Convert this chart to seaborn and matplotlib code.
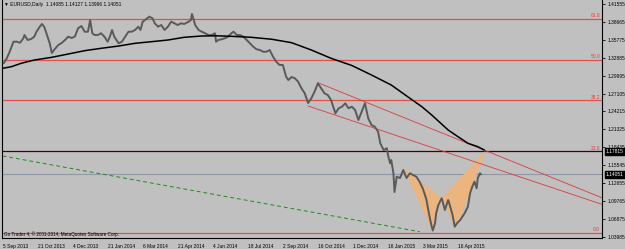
import numpy as np
import pandas as pd
import matplotlib
matplotlib.use("Agg")
import matplotlib.pyplot as plt
import seaborn as sns
from matplotlib.transforms import blended_transform_factory

# ---------------- data ----------------
price_bar = [1, 4, 6, 10, 13, 16, 19, 20, 23, 26, 29, 31, 34, 36, 38, 40, 43, 45, 47, 51,
             54, 57, 60, 63, 66, 69, 72, 75, 78, 80, 82, 84, 87, 90, 93, 96, 98, 100, 102, 106,
             109, 111, 115, 118, 121, 124, 126, 128, 131, 134, 137, 139, 142, 145, 148, 151, 154, 157, 160, 163,
             166, 170, 172, 173, 176, 179, 182, 185, 188, 191, 194, 195, 197, 200, 203, 206, 209, 211, 214, 217,
             220, 223, 226, 229, 232, 235, 238, 241, 244, 247, 250, 253, 256, 259, 261, 264, 267, 270, 273, 276,
             279, 282, 285, 288, 291, 294, 297, 300, 302, 304, 307, 310, 313, 316, 319, 322, 325, 328, 331, 334,
             337, 340, 343, 345, 348, 351, 352, 354, 355, 357, 358, 360, 363, 366, 369, 372, 375, 378, 381, 384,
             387, 390, 392, 393, 395, 396, 398, 401, 402, 404, 405, 407, 408, 411, 413, 415, 418, 420, 422, 425,
             427, 429, 431, 433, 434, 436, 437]
price_close = [1.3198, 1.3284, 1.3364, 1.3547, 1.3547, 1.3530, 1.3602, 1.3655, 1.3574, 1.3590,
               1.3628, 1.3708, 1.3789, 1.3833, 1.3789, 1.3687, 1.3526, 1.3364, 1.3413, 1.3494,
               1.3526, 1.3574, 1.3628, 1.3607, 1.3628, 1.3763, 1.3800, 1.3708, 1.3708, 1.3897,
               1.3683, 1.3655, 1.3655, 1.3683, 1.3628, 1.3547, 1.3628, 1.3736, 1.3628, 1.3521,
               1.3547, 1.3602, 1.3708, 1.3708, 1.3736, 1.3789, 1.3736, 1.3870, 1.3909, 1.3951,
               1.3925, 1.3844, 1.3789, 1.3816, 1.3736, 1.3789, 1.3870, 1.3844, 1.3816, 1.3844,
               1.3833, 1.3870, 1.3897, 1.3994, 1.3816, 1.3736, 1.3708, 1.3683, 1.3655, 1.3655,
               1.3683, 1.3547, 1.3574, 1.3586, 1.3602, 1.3628, 1.3683, 1.3708, 1.3655, 1.3655,
               1.3628, 1.3574, 1.3521, 1.3466, 1.3424, 1.3413, 1.3385, 1.3385, 1.3413, 1.3305,
               1.3224, 1.3171, 1.3171, 1.2982, 1.2928, 1.2977, 1.2956, 1.2901, 1.2794, 1.2714,
               1.2557, 1.2633, 1.2740, 1.2875, 1.2794, 1.2714, 1.2686, 1.2606, 1.2497, 1.2391,
               1.2472, 1.2497, 1.2552, 1.2472, 1.2497, 1.2444, 1.2283, 1.2417, 1.2552, 1.2310,
               1.2202, 1.2175, 1.2094, 1.1907, 1.1798, 1.1826, 1.1718, 1.1584, 1.1637, 1.1422,
               1.1120, 1.1367, 1.1346, 1.1475, 1.1346, 1.1422, 1.1395, 1.1367, 1.1282, 1.1169,
               1.1007, 1.0722, 1.0560, 1.0499, 1.0615, 1.0776, 1.0910, 1.1019, 1.0964, 1.0830,
               1.0883, 1.0991, 1.0938, 1.0749, 1.0560, 1.0615, 1.0668, 1.0722, 1.0776, 1.0883,
               1.1099, 1.1206, 1.1287, 1.1180, 1.1342, 1.1422, 1.1405]

ma_bar = [0, 8, 17, 29, 45, 60, 75, 90, 106, 121, 136, 151, 166, 182, 195, 209, 227, 246,
          264, 282, 300, 319, 337, 355, 370, 383, 392, 407, 416, 425, 434, 440]
ma_value = [1.3117, 1.3143, 1.3198, 1.3251, 1.3295, 1.3348, 1.3402, 1.3440, 1.3477, 1.3521,
            1.3547, 1.3574, 1.3618, 1.3639, 1.3642, 1.3634, 1.3618, 1.3586, 1.3531, 1.3413,
            1.3279, 1.3163, 1.3009, 1.2848, 1.2659, 1.2497, 1.2363, 1.2121, 1.2013, 1.1907,
            1.1852, 1.1798]

fib_levels = [1.0462, 1.17815, 1.2598, 1.3258, 1.3917]
fib_labels = ["0.0", "23.6", "38.2", "50.0", "61.8"]
bid_price = 1.14051
marked_price = 1.17815

upper_channel_bar = [288, 548]
upper_channel_price = [1.2885, 1.1023]
lower_channel_bar = [279, 548]
lower_channel_price = [1.2509, 1.0918]
trend_bar = [0, 381]
trend_price = [1.1702, 1.0479]

pattern_bar = [366, 393, 401, 414, 441]          # X, A, B, C, D
pattern_price = [1.1503, 1.0479, 1.1019, 1.0518, 1.1787]

date_tick_bar = [0, 32, 64, 96, 128, 160, 192, 224, 256, 288, 320, 352, 384, 416]
date_labels = ["5 Sep 2013", "21 Oct 2013", "4 Dec 2013", "21 Jan 2014", "6 Mar 2014",
               "21 Apr 2014", "4 Jun 2014", "18 Jul 2014", "2 Sep 2014", "16 Oct 2014",
               "1 Dec 2014", "16 Jan 2015", "3 Mar 2015", "16 Apr 2015"]
price_ticks = [1.41555, 1.38665, 1.35775, 1.32885, 1.29995, 1.27105, 1.24215, 1.21325,
               1.18435, 1.15545, 1.12655, 1.09765, 1.06875, 1.03985]

header = "\u25BC EURUSD,Daily  1.14085 1.14127 1.13996 1.14051"
footer = "Go Trader 4, \u00A9 2001-2014, MetaQuotes Software Corp."

# ---------------- drawing ----------------
sns.set_theme(style="white")
BG = "#c0c0c0"
plt.rcParams["font.family"] = ["Liberation Sans", "DejaVu Sans"]
FS = 3.5

fig = plt.figure(figsize=(6.25, 2.49), dpi=100, facecolor=BG)
ax = fig.add_axes([2 / 625, 11 / 249, 600 / 625, 238 / 249])
ax.set_facecolor(BG)
ax.set_xlim(-0.5, 547.5)
ax.set_ylim(1.03776, 1.42201)

# fibonacci levels
for lvl, lab in zip(fib_levels, fib_labels):
    col = "#3a0505" if lvl == marked_price else "#e0504c"
    ax.axhline(lvl, color=col, lw=0.9, zorder=1)
    ax.text(0.9967, lvl + 0.0008, lab, color="#e8403c", fontsize=FS,
            transform=blended_transform_factory(ax.transAxes, ax.transData),
            ha="right", va="bottom", zorder=5)
ax.axhline(bid_price, color="#8e98a8", lw=0.8, zorder=1)

# harmonic pattern triangles
ax.fill(pattern_bar[0:3], pattern_price[0:3], color="#ecb47e", lw=0, zorder=1.5)
ax.fill(pattern_bar[2:5], pattern_price[2:5], color="#ecb47e", lw=0, zorder=1.5)

# trend lines
ax.plot(upper_channel_bar, upper_channel_price, color="#d83c3c", lw=0.6, zorder=2)
ax.plot(lower_channel_bar, lower_channel_price, color="#d83c3c", lw=0.6, zorder=2)
ax.plot(trend_bar, trend_price, color="#1f8a1f", lw=0.7, dashes=(4, 3), zorder=2)

# price and moving average
df_price = pd.DataFrame({"bar": price_bar, "close": price_close})
df_ma = pd.DataFrame({"bar": ma_bar, "ma": ma_value})
sns.lineplot(data=df_price, x="bar", y="close", ax=ax, color="#5a5a5a", lw=1.4,
             sort=False, estimator=None, zorder=3)
sns.lineplot(data=df_ma, x="bar", y="ma", ax=ax, color="#000000", lw=1.1,
             sort=False, estimator=None, zorder=4)

# axes styling
ax.set_xlabel("")
ax.set_ylabel("")
for s in ["left", "bottom", "right"]:
    ax.spines[s].set_visible(True)
    ax.spines[s].set_color("#000000")
    ax.spines[s].set_linewidth(0.8)
ax.spines["top"].set_visible(False)

ax.set_xticks(date_tick_bar)
ax.set_xticklabels(date_labels, fontsize=FS, ha="left", color="#000000")
ax.tick_params(axis="x", length=2.5, width=0.6, pad=1.5, color="#000000", direction="out")

ax.yaxis.tick_right()
ax.set_yticks(price_ticks)
ax.set_yticklabels([f"{v:.5f}" for v in price_ticks], fontsize=FS, color="#000000")
ax.tick_params(axis="y", length=2.5, width=0.6, pad=1.2, color="#000000", direction="out")
ax.grid(False)

tr = blended_transform_factory(ax.transAxes, ax.transData)
for p in [marked_price, bid_price]:
    ax.text(1.0065, p, f"{p:.5f}", transform=tr, fontsize=FS, color="white",
            ha="left", va="center", zorder=10, clip_on=False,
            bbox=dict(boxstyle="square,pad=0.2", fc="black", ec="black"))

ax.text(0.004, 0.99, header, transform=ax.transAxes, fontsize=FS, color="#000000",
        ha="left", va="top", zorder=10)
ax.text(0.004, 0.006, footer, transform=ax.transAxes, fontsize=FS * 0.95, color="#000000",
        ha="left", va="bottom", zorder=10)

fig.savefig("out.png", dpi=100, facecolor=BG)
